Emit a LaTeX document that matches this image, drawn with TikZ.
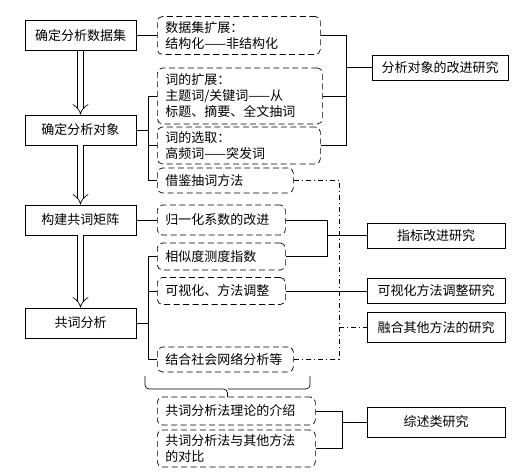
\documentclass[tikz,border=0pt]{standalone}
\usepackage{fontspec}
\setmainfont{Noto Sans CJK SC}
\usetikzlibrary{arrows.meta}

\begin{document}
\begin{tikzpicture}[
    x=1pt, y=-1pt,
    line width=0.7pt,
    font=\fontsize{13}{16}\selectfont,
    stage/.style={draw, minimum width=111pt, minimum height=30pt, inner sep=0pt},
    topic/.style={draw, minimum width=138pt, minimum height=25pt, inner sep=0pt},
    item/.style={draw, dash pattern=on 6pt off 3.5pt, rounded corners=5pt, align=left,
      inner xsep=8pt, inner ysep=2pt, anchor=west, text width=#1},
    flow/.style={double, double distance=5pt, -{Implies}},
    link/.style={dash pattern=on 5pt off 3pt on 1pt off 3pt},
  ]
    \useasboundingbox (0,0) rectangle (517,475);

    % main steps
    \node[stage] (set) at (80.5,35.5) {确定分析数据集};
    \node[stage] (obj) at (80.5,130)  {确定分析对象};
    \node[stage] (mat) at (80.5,220)  {构建共词矩阵};
    \node[stage] (ana) at (80.5,323)  {共词分析};

    \foreach \a/\b in {set/obj, obj/mat, mat/ana} \draw[flow] (\a) -- (\b);

    % dashed items
    \node[item=147pt, minimum height=38pt] (dsExt) at (157,35.5)  {数据集扩展：\\结构化——非结构化};
    \node[item=149pt, minimum height=56pt] (wExt)  at (157,96)    {词的扩展：\\主题词/关键词——从\\标题、摘要、全文抽词};
    \node[item=147pt, minimum height=37pt] (wSel)  at (157,145.5) {词的选取：\\高频词——突发词};
    \node[item=120pt, minimum height=25pt] (wBor)  at (157,180.5) {借鉴抽词方法};
    \node[item=112pt, minimum height=30pt] (norm)  at (157,220)   {归一化系数的改进};
    \node[item=112pt, minimum height=27pt] (sim)   at (157,256.5) {相似度测度指数};
    \node[item=112pt, minimum height=27pt] (vis)   at (157,291)   {可视化、方法调整};
    \node[item=120pt, minimum height=25pt] (sna)   at (157,359.5) {结合社会网络分析等};
    \node[item=142pt, minimum height=28pt] (theo)  at (157,411)   {共词分析法理论的介绍};
    \node[item=142pt, minimum height=37pt] (comp)  at (157,448.5) {共词分析法与其他方法\\的对比};

    % research topics
    \node[topic, minimum width=136pt] (rObj) at (440,67.5) {分析对象的改进研究};
    \node[topic] (rIdx) at (436,235.5) {指标改进研究};
    \node[topic] (rVis) at (436,291)   {可视化方法调整研究};
    \node[topic, minimum height=30pt] (rFus) at (436,327.5) {融合其他方法的研究};
    \node[topic, minimum height=30pt] (rRev) at (436,422)   {综述类研究};

    \coordinate (leftJ) at (148,0);
    \coordinate (objR)  at (346,0);
    \coordinate (idxR)  at (327,0);
    \coordinate (fusR)  at (339,0);
    \coordinate (revR)  at (342,0);

    % left side
    \draw (set) -- (dsExt);
    \draw (mat) -- (norm);
    \draw (wExt.west) -| (leftJ |- wBor.west) -- (wBor.west);
    \draw (wSel.west) -- (wSel.west -| leftJ);
    \draw (obj) -- (obj -| leftJ);
    \draw (sim.west) -| (leftJ |- sna.west) -- (sna.west);
    \draw (vis.west) -- (vis.west -| leftJ);
    \draw (ana) -- (ana -| leftJ);

    % right side
    \draw (dsExt.east) -| (objR |- wSel.east) -- (wSel.east);
    \draw (wExt.east) -- (wExt.east -| objR);
    \draw (objR |- rObj.west) -- (rObj.west);
    \draw (norm.east) -| (idxR |- sim.east) -- (sim.east);
    \draw (idxR |- rIdx.west) -- (rIdx.west);
    \draw (vis.east) -- (rVis.west);
    \draw[link] (wBor.east) -| (fusR |- sna.east) -- (sna.east);
    \draw[link] (fusR |- rFus.west) -- (rFus.west);
    \draw (theo.east) -| (revR |- comp.east) -- (comp.east);
    \draw (revR |- rRev.west) -- (rRev.west);

    % brace over the review items
    \coordinate (tip) at (227.5,397);
    \draw[rounded corners=4pt] (145,376) |- (tip |- 0,389) -- (tip);
    \draw[rounded corners=4pt] (310,376) |- (tip |- 0,389);
  \end{tikzpicture}
\end{document}
